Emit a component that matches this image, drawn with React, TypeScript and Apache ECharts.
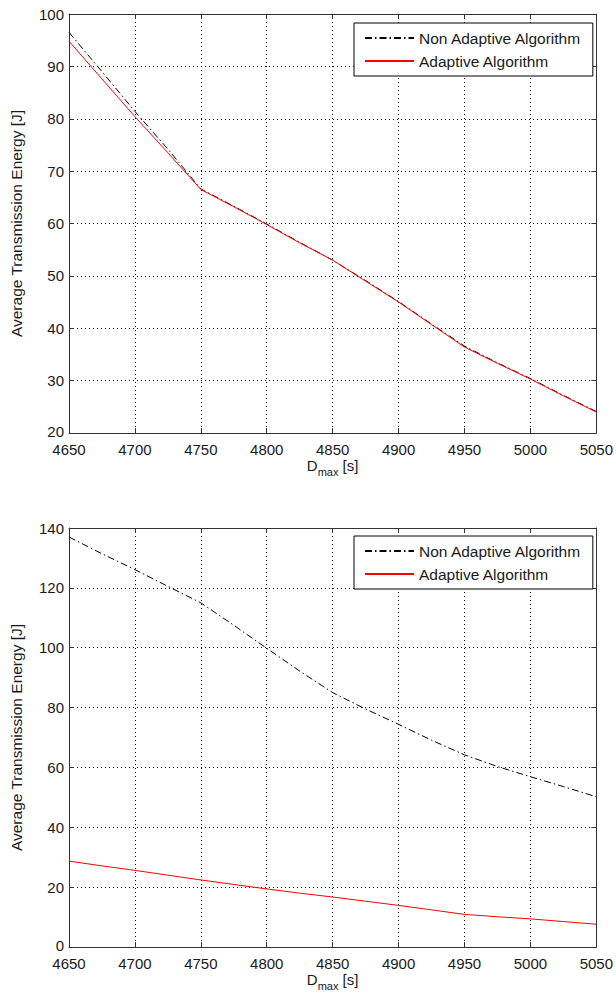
import React, { useEffect, useRef } from "react";
import * as echarts from "echarts";

const dMax = [4650, 4675, 4700, 4725, 4750, 4775, 4800, 4825, 4850, 4875, 4900, 4925, 4950, 4975, 5000, 5025, 5050];
const topNonAdaptive = [96.5, 89.0, 81.4, 74.2, 66.6, 63.3, 59.9, 56.4, 53.0, 49.1, 45.1, 40.8, 36.6, 33.4, 30.4, 27.2, 24.1];
const topAdaptive = [94.8, 87.6, 80.4, 73.5, 66.5, 63.2, 59.8, 56.3, 53.0, 49.0, 45.0, 40.7, 36.4, 33.3, 30.3, 27.1, 24.0];
const bottomNonAdaptive = [137.0, 131.4, 126.1, 120.5, 115.0, 107.5, 99.8, 92.2, 85.0, 79.5, 74.4, 69.1, 64.2, 60.3, 56.9, 53.6, 50.2];
const bottomAdaptive = [28.7, 27.1, 25.6, 24.0, 22.4, 20.9, 19.4, 18.0, 16.7, 15.3, 13.9, 12.4, 10.9, 10.1, 9.4, 8.5, 7.6];

const NON = "Non Adaptive Algorithm";
const ADA = "Adaptive Algorithm";
const Y_TITLE = "Average Transmission Energy [J]";

const FONT = "Liberation Sans, Arial, sans-serif";
const TXT = "#1a1a1a";
const AX = "#333333";

export default function App() {
  const ref = useRef<HTMLDivElement>(null);
  useEffect(() => {
    if (!ref.current) return;
    const chart = echarts.init(ref.current, undefined, { renderer: "svg" });

    const pair = (xs: number[], ys: number[]) => xs.map((x, i) => [x, ys[i]]);

    const mkX = (gi: number, pos: "bottom" | "top") => ({
      type: "value",
      gridIndex: gi,
      position: pos,
      min: 4650,
      max: 5050,
      interval: 50,
      axisLine: { show: true, onZero: false, lineStyle: { color: AX, width: 1 } },
      axisTick: { show: true, inside: true, length: 5, lineStyle: { color: AX } },
      axisLabel: {
        show: pos === "bottom",
        formatter: (v: number) => String(v),
        color: TXT,
        fontSize: 15,
        lineHeight: 13,
        fontFamily: FONT,
        margin: 10,
      },
      splitLine: pos === "bottom" ? { show: true, lineStyle: { color: "#000", type: [1, 3], width: 1 } } : { show: false },
      name: pos === "bottom" ? "{d|D}{s|max}{d| [s]}" : "",
      nameLocation: "middle",
      nameGap: 24,
      nameTextStyle: {
        color: TXT,
        fontFamily: FONT,
        rich: {
          d: { fontSize: 15, fontFamily: FONT, color: TXT, lineHeight: 18, verticalAlign: "top" },
          s: { fontSize: 11, fontFamily: FONT, color: TXT, lineHeight: 13, padding: [9, 0, 0, 0], verticalAlign: "top" },
        },
      },
    });

    const mkY = (gi: number, pos: "left" | "right", min: number, max: number, interval: number) => ({
      type: "value",
      gridIndex: gi,
      position: pos,
      min,
      max,
      interval,
      axisLine: { show: true, onZero: false, lineStyle: { color: AX, width: 1 } },
      axisTick: { show: true, inside: true, length: 5, lineStyle: { color: AX } },
      axisLabel: {
        show: pos === "left",
        color: TXT,
        fontSize: 15,
        lineHeight: 13,
        fontFamily: FONT,
        margin: 5,
        formatter: (v: number) => (v === min ? "{lo|" + v + "}" : String(v)),
        rich: {
          lo: { fontSize: 15, fontFamily: FONT, color: TXT, lineHeight: 13, padding: [0, 0, 4, 0] },
        },
      },
      splitLine: pos === "left" ? { show: true, lineStyle: { color: "#000", type: [1, 3], width: 1 } } : { show: false },
      name: pos === "left" ? Y_TITLE : "",
      nameLocation: "middle",
      nameGap: 45,
      nameTextStyle: { color: TXT, fontSize: 15.5, fontFamily: FONT },
    });

    const mkLegend = (top: number) => ({
      orient: "vertical",
      left: 354,
      top,
      data: [NON, ADA],
      itemWidth: 49,
      itemHeight: 14,
      itemGap: 7,
      padding: [7, 11, 7, 10],
      borderColor: "#000",
      borderWidth: 1,
      backgroundColor: "#fff",
      selectedMode: false,
      itemStyle: { opacity: 0 },
      textStyle: { color: TXT, fontSize: 15.5, fontFamily: FONT },
    });

    const dashDot = [7, 3, 1.5, 3];

    chart.setOption({
      animation: false,
      backgroundColor: "#fff",
      grid: [
        { left: 65, top: 14, width: 533, height: 419, containLabel: false },
        { left: 65, top: 528, width: 533, height: 419, containLabel: false },
      ],
      legend: [mkLegend(23), mkLegend(536)],
      xAxis: [mkX(0, "bottom"), mkX(0, "top"), mkX(1, "bottom"), mkX(1, "top")],
      yAxis: [
        mkY(0, "left", 20, 100, 10),
        mkY(0, "right", 20, 100, 10),
        mkY(1, "left", 0, 140, 20),
        mkY(1, "right", 0, 140, 20),
      ],
      series: [
        {
          name: NON,
          type: "line",
          xAxisIndex: 0,
          yAxisIndex: 0,
          data: pair(dMax, topNonAdaptive),
          showSymbol: false,
          symbol: "none",
          lineStyle: { color: "#000", width: 1, type: dashDot },
          itemStyle: { color: "#000" },
        },
        {
          name: ADA,
          type: "line",
          xAxisIndex: 0,
          yAxisIndex: 0,
          data: pair(dMax, topAdaptive),
          showSymbol: false,
          symbol: "none",
          lineStyle: { color: "#ff0000", width: 1 },
          itemStyle: { color: "#ff0000" },
        },
        {
          name: NON,
          type: "line",
          xAxisIndex: 2,
          yAxisIndex: 2,
          data: pair(dMax, bottomNonAdaptive),
          showSymbol: false,
          symbol: "none",
          lineStyle: { color: "#000", width: 1, type: dashDot },
          itemStyle: { color: "#000" },
        },
        {
          name: ADA,
          type: "line",
          xAxisIndex: 2,
          yAxisIndex: 2,
          data: pair(dMax, bottomAdaptive),
          showSymbol: false,
          symbol: "none",
          lineStyle: { color: "#ff0000", width: 1 },
          itemStyle: { color: "#ff0000" },
        },
      ],
    });
    return () => chart.dispose();
  }, []);

  return (
    <div
      ref={ref}
      style={{ position: "fixed", left: 0, top: 0, width: 616, height: 994, background: "#fff" }}
    />
  );
}
